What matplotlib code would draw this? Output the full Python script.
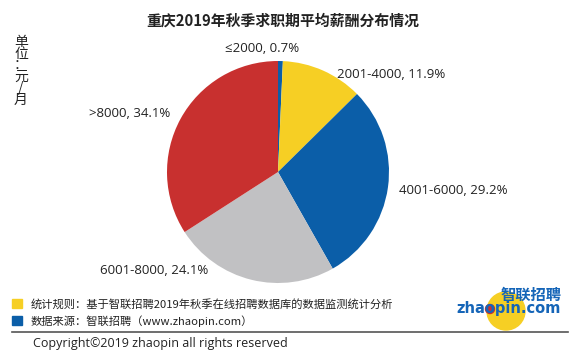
import matplotlib
matplotlib.use('Agg')
import matplotlib.pyplot as plt
from matplotlib.patches import Rectangle, Ellipse

plt.rcParams['font.family'] = ['Noto Sans CJK SC', 'DejaVu Sans']

# data
labels = ['≤2000', '2001-4000', '4001-6000', '6001-8000', '>8000']
shares = [0.7, 11.9, 29.2, 24.1, 34.1]
colors = ['#0b5ea8', '#f6cf24', '#0b5ea8', '#c1c1c3', '#c8302f']

W, H = 580, 358
fig = plt.figure(figsize=(W / 100, H / 100), dpi=100)
fig.patch.set_facecolor('white')

# pie: center (278,172), radius ~111 px
cx, cy, r = 278, 172, 111
ax = fig.add_axes([(cx - r) / W, 1 - (cy + r) / H, 2 * r / W, 2 * r / H])
ax.pie(shares, colors=colors, startangle=90, counterclock=False,
       wedgeprops=dict(linewidth=0))
ax.set_xlim(-1, 1)
ax.set_ylim(-1, 1)
ax.set_aspect('auto')

# data labels (pixel positions of the label centres)
label_pos = [(262, 49), (391, 74), (453, 191), (154, 270), (130, 114)]
for lab, val, (x, y) in zip(labels, shares, label_pos):
    fig.text(x / W, 1 - y / H, f'{lab}, {val}%', fontsize=9.5,
             family=['Open Sans', 'DejaVu Sans'],
             ha='center', va='center', color='#222222')

# title
fig.text(283 / W, 1 - 21 / H, '重庆2019年秋季求职期平均薪酬分布情况',
         fontsize=10.7, fontweight='bold', ha='center', va='center',
         color='#222222')

# unit label, stacked vertically
fig.text(21 / W, 1 - 71 / H, '单\n位\n：\n元\n/\n月', fontsize=10,
         ha='center', va='center', linespacing=0.78, color='#222222')

# footnotes
fig.patches.append(Rectangle((12 / W, 1 - 308 / H), 10 / W, 9 / H,
                             transform=fig.transFigure, color='#f6cf24'))
fig.patches.append(Rectangle((12 / W, 1 - 325 / H), 10 / W, 9 / H,
                             transform=fig.transFigure, color='#0b5ea8'))
fig.text(31 / W, 1 - 304 / H, '统计规则：基于智联招聘2019年秋季在线招聘数据库的数据监测统计分析',
         fontsize=8.1, ha='left', va='center', color='#222222')
fig.text(31 / W, 1 - 321 / H, '数据来源：智联招聘（www.zhaopin.com）',
         fontsize=8.1, ha='left', va='center', color='#222222')
fig.add_artist(plt.Line2D([12 / W, 568 / W], [1 - 332 / H, 1 - 332 / H],
                          transform=fig.transFigure, color='#555555', lw=1.2))
fig.text(33 / W, 1 - 344 / H, 'Copyright©2019 zhaopin all rights reserved',
         fontsize=9, family=['Open Sans', 'DejaVu Sans'],
         ha='left', va='center', color='#222222')

# logo
fig.patches.append(Ellipse((506 / W, 1 - 311 / H), 38 / W, 38 / H,
                           transform=fig.transFigure, color='#f6cf24'))
fig.patches.append(Ellipse((490 / W, 1 - 309 / H), 9 / W, 9 / H,
                           transform=fig.transFigure, color='#c8302f'))
fig.text(531 / W, 1 - 295 / H, '智联招聘', fontsize=11, fontweight='bold',
         ha='center', va='center', color='#1565b8')
fig.text(509 / W, 1 - 309 / H, 'zhaopin.com', fontsize=10.5, fontweight='bold',
         family='DejaVu Sans', ha='center', va='center', color='#1565b8')

fig.savefig('out.png', dpi=100)
